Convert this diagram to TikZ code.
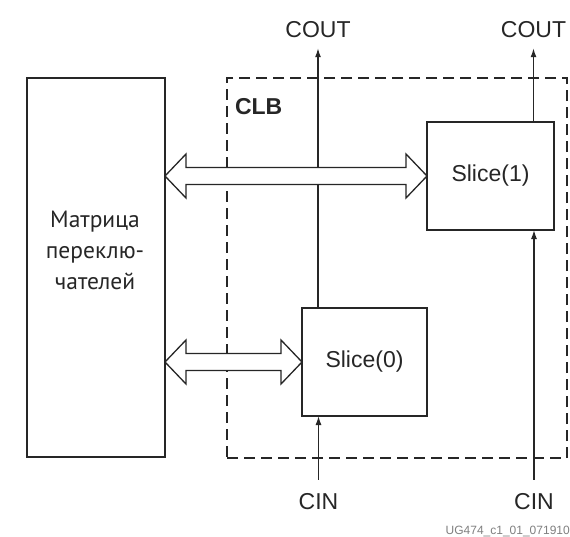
\documentclass[tikz,border=0pt]{standalone}
\usepackage{fontspec}
\setmainfont{Liberation Sans}
\newfontfamily\rufont{PT Sans}
\usetikzlibrary{calc,arrows.meta}
\definecolor{ink}{HTML}{262626}
\definecolor{foot}{HTML}{808080}
\begin{document}
\begin{tikzpicture}[x=1pt,y=-1pt,
  solidbox/.style={draw=ink, line width=1.9pt, outer sep=0pt, inner sep=0pt},
  clbbox/.style={draw=ink, line width=2pt, dash pattern=on 11pt off 6pt, outer sep=0pt, inner sep=0pt},
  lbl/.style={font=\fontsize{23}{27}\selectfont, text=ink, inner sep=0pt, outer sep=0pt},
  rulbl/.style={font=\rufont\fontsize{23.5}{31}\selectfont, text=ink, align=center, inner sep=0pt},
  carry/.style={draw=ink, line width=1.3pt, -{Latex[length=9pt,width=6pt]}},
  dblarrow/.style={draw=ink, line width=1.3pt, fill=white, line join=miter},
]
\useasboundingbox[fill=white] (0,0) rectangle (570,536);

% CLB dashed region
\node[clbbox, minimum width=340pt, minimum height=380pt] (clb) at (397,268) {};
\node[lbl, font=\fontsize{23}{27}\selectfont\bfseries, anchor=west] (clbtxt) at (235,107) {CLB};

% switch matrix
\node[solidbox, minimum width=138pt, minimum height=379pt] (sw) at (96,267.5) {};
\node[rulbl] (swtxt) at (95,250) {Матрица\\переклю-\\чателей};

% slices
\node[solidbox, minimum width=127pt, minimum height=108pt, lbl] (s1) at (490.5,176) {Slice(1)};
\node[solidbox, minimum width=125pt, minimum height=108pt, lbl] (s0) at (364.5,362) {Slice(0)};

% carry labels
\node[lbl, anchor=base] (co0) at (318,37) {COUT};
\node[lbl, anchor=base] (co1) at (533.5,37) {COUT};
\node[lbl, anchor=base] (ci0) at (318.5,509) {CIN};
\node[lbl, anchor=base] (ci1) at (534,509) {CIN};

% carry chain
\draw[carry] (s0.north -| co0) -- ($(co0.south)+(0,11)$);
\draw[carry] (s1.north -| co1) -- ($(co1.south)+(0,11)$);
\draw[carry] ($(ci0.north)+(0,-13)$) -- (ci0 |- s0.south);
\draw[carry] ($(ci1.north)+(0,-13)$) -- (ci1 |- s1.south);

% double arrows
\coordinate (a1l) at (sw.east |- s1.west);
\coordinate (a1r) at (s1.west);
\coordinate (a0l) at (sw.east |- s0.west);
\coordinate (a0r) at (s0.west);
\foreach \l/\r in {a1l/a1r, a0l/a0r}{
  \draw[dblarrow] (\l) -- ($(\l)+(21,-22)$) -- ($(\l)+(21,-8.5)$) -- ($(\r)+(-21,-8.5)$)
    -- ($(\r)+(-21,-22)$) -- (\r) -- ($(\r)+(-21,22)$) -- ($(\r)+(-21,8.5)$)
    -- ($(\l)+(21,8.5)$) -- ($(\l)+(21,22)$) -- cycle;
}

% figure id
\node[font=\fontsize{12}{14}\selectfont, text=foot, anchor=base east, inner sep=0pt] (figid) at (570,534) {UG474\_c1\_01\_071910};
\end{tikzpicture}
\end{document}
